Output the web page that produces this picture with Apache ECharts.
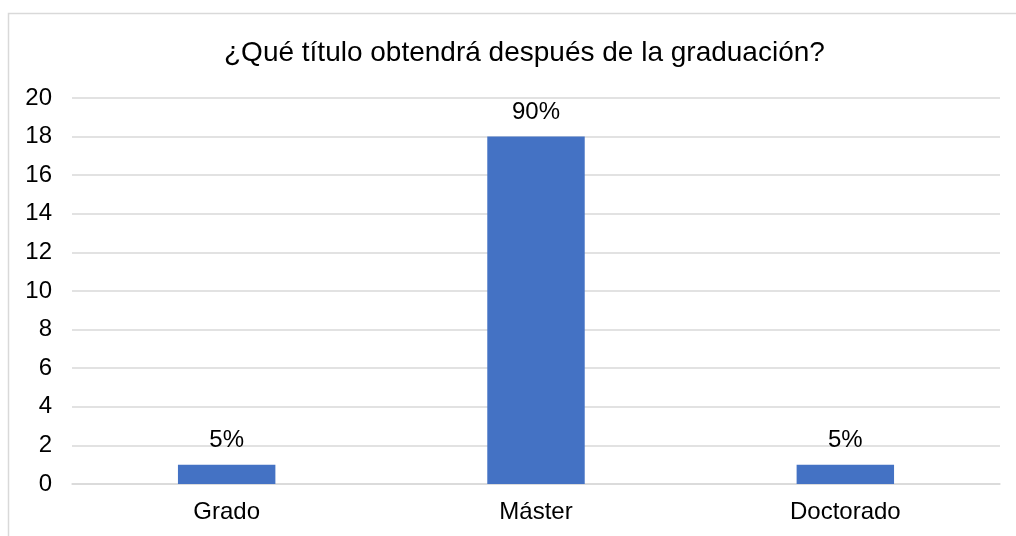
<!DOCTYPE html>
<html>
<head>
<meta charset="utf-8">
<script src="https://cdn.jsdelivr.net/npm/echarts@6/dist/echarts.min.js"></script>
<style>
  html, body { margin: 0; padding: 0; background: #fff; }
  #main { width: 1016px; height: 536px; }
</style>
</head>
<body>
<div id="main"></div>
<script>
	var categories = ['Grado', 'Máster', 'Doctorado'];
	var counts = [1, 18, 1];
	var percentLabels = ['5%', '90%', '5%'];

	var myChart = echarts.init(document.getElementById('main'));

	var option = {
		animation : false,
		textStyle : {
			fontFamily : 'Liberation Sans, Arial, sans-serif'
		},
		title : {
			text : '¿Qué título obtendrá después de la graduación?',
			left : 219,
			top : 34,
			textStyle : {
				fontSize : 28,
				fontWeight : 'normal',
				color : '#000'
			}
		},
		graphic : [ {
			type : 'rect',
			shape : { x : 8.5, y : 13.5, width : 1030, height : 540 },
			style : { fill : 'none', stroke : '#d9d9d9', lineWidth : 1.5 },
			silent : true
		} ],
		grid : {
			left : 72,
			right : 16,
			top : 98,
			bottom : 52
		},
		xAxis : [ {
			type : 'category',
			data : categories,
			axisLine : { lineStyle : { color : '#d9d9d9', width : 1.5 } },
			axisTick : { show : false },
			axisLabel : {
				fontSize : 24,
				color : '#000',
				margin : 16
			}
		} ],
		yAxis : [ {
			type : 'value',
			min : 0,
			max : 20,
			interval : 2,
			axisLine : { show : false },
			axisTick : { show : false },
			axisLabel : {
				fontSize : 24,
				color : '#000',
				margin : 20
			},
			splitLine : { lineStyle : { color : '#d9d9d9', width : 1.5 } }
		} ],
		series : [ {
			type : 'bar',
			data : counts,
			barWidth : '31.5%',
			itemStyle : { color : '#4472C4' },
			label : {
				show : true,
				position : 'top',
				distance : 12,
				fontSize : 24,
				color : '#000',
				formatter : function (p) {
					return percentLabels[p.dataIndex];
				}
			}
		} ]
	};
	myChart.setOption(option);
</script>
</body>
</html>
